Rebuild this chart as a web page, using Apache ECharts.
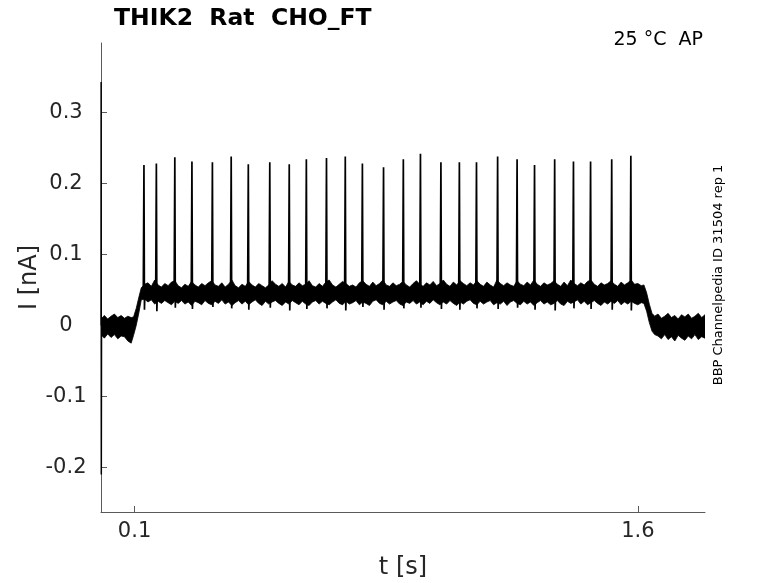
<!DOCTYPE html>
<html>
<head>
<meta charset="utf-8">
<title>THIK2 Rat CHO_FT</title>
<script src="https://cdn.jsdelivr.net/npm/echarts@6/dist/echarts.min.js"></script>
<style>
  html, body { margin: 0; padding: 0; background: #fff; }
  #chart { width: 778px; height: 583px; }
</style>
</head>
<body>
<div id="chart"></div>
<script>
// current trace (t in s, I in nA)

// noisy band: upper / lower envelope, in three pieces
// holding level before the step
const preT  = [0.002, 0.01, 0.02, 0.03, 0.04, 0.05, 0.06, 0.07, 0.08, 0.09, 0.097, 0.105, 0.113, 0.12]
const preHi = [0.010, 0.014, 0.009, 0.013, 0.016, 0.011, 0.014, 0.010, 0.013, 0.011, 0.012, 0.024, 0.040, 0.053]
const preLo = [-0.014, -0.018, -0.012, -0.017, -0.013, -0.019, -0.015, -0.016, -0.022, -0.025, -0.014, 0.000, 0.018, 0.036]

// plateau during the step
const platT = [
  0.13, 0.14, 0.15, 0.16, 0.17, 0.18, 0.19, 0.20, 0.21, 0.22,
  0.23, 0.24, 0.25, 0.26, 0.27, 0.28, 0.29, 0.30, 0.31, 0.32,
  0.33, 0.34, 0.35, 0.36, 0.37, 0.38, 0.39, 0.40, 0.41, 0.42,
  0.43, 0.44, 0.45, 0.46, 0.47, 0.48, 0.49, 0.50, 0.51, 0.52,
  0.53, 0.54, 0.55, 0.56, 0.57, 0.58, 0.59, 0.60, 0.61, 0.62,
  0.63, 0.64, 0.65, 0.66, 0.67, 0.68, 0.69, 0.70, 0.71, 0.72,
  0.73, 0.74, 0.75, 0.76, 0.77, 0.78, 0.79, 0.80, 0.81, 0.82,
  0.83, 0.84, 0.85, 0.86, 0.87, 0.88, 0.89, 0.90, 0.91, 0.92,
  0.93, 0.94, 0.95, 0.96, 0.97, 0.98, 0.99, 1.00, 1.01, 1.02,
  1.03, 1.04, 1.05, 1.06, 1.07, 1.08, 1.09, 1.10, 1.11, 1.12,
  1.13, 1.14, 1.15, 1.16, 1.17, 1.18, 1.19, 1.20, 1.21, 1.22,
  1.23, 1.24, 1.25, 1.26, 1.27, 1.28, 1.29, 1.30, 1.31, 1.32,
  1.33, 1.34, 1.35, 1.36, 1.37, 1.38, 1.39, 1.40, 1.41, 1.42,
  1.43, 1.44, 1.45, 1.46, 1.47, 1.48, 1.49, 1.50, 1.51, 1.52,
  1.53, 1.54, 1.55, 1.56, 1.57, 1.58, 1.59, 1.60, 1.61
]
const platHi = [
  0.058, 0.060, 0.055, 0.064, 0.057, 0.054, 0.059, 0.056, 0.061, 0.063,
  0.056, 0.053, 0.058, 0.055, 0.062, 0.057, 0.054, 0.059, 0.056, 0.060,
  0.063, 0.057, 0.055, 0.060, 0.054, 0.058, 0.064, 0.056, 0.053, 0.058,
  0.055, 0.062, 0.057, 0.054, 0.059, 0.056, 0.053, 0.057, 0.063, 0.058,
  0.055, 0.059, 0.054, 0.062, 0.057, 0.055, 0.060, 0.056, 0.058, 0.063,
  0.056, 0.054, 0.059, 0.055, 0.061, 0.064, 0.057, 0.054, 0.058, 0.062,
  0.059, 0.055, 0.057, 0.054, 0.060, 0.063, 0.058, 0.055, 0.061, 0.056,
  0.059, 0.064, 0.057, 0.055, 0.060, 0.056, 0.058, 0.062, 0.057, 0.054,
  0.059, 0.063, 0.058, 0.055, 0.060, 0.057, 0.062, 0.056, 0.059, 0.064,
  0.058, 0.055, 0.061, 0.057, 0.063, 0.059, 0.056, 0.060, 0.057, 0.063,
  0.058, 0.055, 0.061, 0.057, 0.054, 0.064, 0.059, 0.056, 0.060, 0.057,
  0.055, 0.063, 0.058, 0.056, 0.061, 0.057, 0.064, 0.058, 0.055, 0.060,
  0.057, 0.059, 0.063, 0.058, 0.055, 0.061, 0.056, 0.064, 0.059, 0.056,
  0.060, 0.057, 0.062, 0.064, 0.058, 0.055, 0.060, 0.057, 0.059, 0.063,
  0.058, 0.055, 0.061, 0.057, 0.060, 0.064, 0.058, 0.059, 0.056
]
const platLo = [
  0.037, 0.033, 0.036, 0.030, 0.034, 0.031, 0.035, 0.032, 0.029, 0.034,
  0.031, 0.035, 0.030, 0.033, 0.028, 0.034, 0.032, 0.029, 0.035, 0.031,
  0.029, 0.034, 0.031, 0.036, 0.030, 0.033, 0.028, 0.032, 0.035, 0.030,
  0.034, 0.029, 0.033, 0.036, 0.031, 0.028, 0.034, 0.030, 0.033, 0.035,
  0.031, 0.028, 0.033, 0.030, 0.035, 0.032, 0.029, 0.034, 0.030, 0.028,
  0.033, 0.035, 0.030, 0.034, 0.031, 0.029, 0.033, 0.036, 0.031, 0.029,
  0.034, 0.030, 0.032, 0.035, 0.029, 0.033, 0.031, 0.028, 0.034, 0.036,
  0.031, 0.029, 0.034, 0.030, 0.033, 0.035, 0.030, 0.028, 0.033, 0.031,
  0.035, 0.030, 0.033, 0.029, 0.034, 0.031, 0.036, 0.032, 0.029, 0.033,
  0.030, 0.035, 0.031, 0.028, 0.033, 0.030, 0.034, 0.036, 0.031, 0.029,
  0.034, 0.030, 0.033, 0.035, 0.029, 0.032, 0.030, 0.034, 0.028, 0.033,
  0.035, 0.031, 0.029, 0.034, 0.030, 0.033, 0.028, 0.032, 0.035, 0.030,
  0.033, 0.029, 0.031, 0.035, 0.030, 0.028, 0.034, 0.031, 0.033, 0.036,
  0.030, 0.034, 0.029, 0.032, 0.035, 0.031, 0.028, 0.033, 0.030, 0.034,
  0.031, 0.035, 0.029, 0.033, 0.030, 0.034, 0.031, 0.029, 0.032
]

// decay back to holding level after the step
const postT  = [1.618, 1.626, 1.634, 1.642, 1.65, 1.66, 1.67, 1.68, 1.69, 1.70, 1.71, 1.72, 1.73, 1.74, 1.75, 1.76, 1.77, 1.78, 1.79, 1.80]
const postHi = [0.057, 0.046, 0.030, 0.017, 0.013, 0.016, 0.010, 0.013, 0.017, 0.011, 0.014, 0.009, 0.015, 0.012, 0.016, 0.010, 0.013, 0.017, 0.011, 0.015]
const postLo = [0.031, 0.020, 0.004, -0.008, -0.013, -0.015, -0.019, -0.013, -0.020, -0.016, -0.022, -0.014, -0.018, -0.021, -0.015, -0.019, -0.013, -0.020, -0.016, -0.018]

// action potentials riding on the plateau
const plateauLevel = 0.047
const spikeT = [
  0.128, 0.165, 0.220, 0.271, 0.332, 0.388, 0.439, 0.503, 0.561,
  0.612, 0.672, 0.728, 0.779, 0.842, 0.901, 0.952, 1.013, 1.068,
  1.119, 1.182, 1.240, 1.292, 1.352, 1.408, 1.459, 1.522, 1.579
]
const spikePeak = [
  0.226, 0.228, 0.237, 0.231, 0.230, 0.238, 0.227, 0.230, 0.227,
  0.234, 0.236, 0.238, 0.228, 0.223, 0.234, 0.242, 0.230, 0.230,
  0.230, 0.238, 0.234, 0.226, 0.234, 0.231, 0.231, 0.234, 0.239
]
const spikeDip = [
  0.022, 0.020, 0.025, 0.023, 0.026, 0.024, 0.022, 0.025, 0.021,
  0.023, 0.024, 0.021, 0.026, 0.022, 0.024, 0.025, 0.023, 0.022,
  0.024, 0.023, 0.025, 0.022, 0.021, 0.024, 0.023, 0.022, 0.021
]

// capacitive transient at t = 0
const transT = [0, 0.0004, 0.0009, 0.0016]
const transI = [0, 0.343, -0.21, 0]

const xTicks = [0.1, 1.6]
const yTicks = [-0.2, -0.1, 0, 0.1, 0.2, 0.3]

const envT = preT.concat(platT, postT)
const envHi = preHi.concat(platHi, postHi)
const envLo = preLo.concat(platLo, postLo)

const FONT = 'DejaVu Sans'
const chart = echarts.init(document.getElementById('chart'))

const option = {
  animation: false,
  backgroundColor: '#fff',
  title: {
    text: 'THIK2  Rat  CHO_FT',
    left: 114,
    top: 7,
    padding: 0,
    textStyle: { fontFamily: FONT, fontWeight: 'bold', fontSize: 23.5, color: '#000' }
  },
  // fixed plot box, no auto-shrinking to fit the axis names
  grid: { left: 101, right: 73, top: 43, bottom: 71, outerBoundsMode: 'none' },
  xAxis: {
    type: 'value',
    min: 0,
    max: 1.8,
    name: 't [s]',
    nameLocation: 'middle',
    nameGap: 44,
    nameMoveOverlap: false,
    nameTextStyle: { fontFamily: FONT, fontSize: 24, color: '#262626' },
    axisLine: { onZero: false, lineStyle: { color: '#5a5a5a', width: 1 } },
    axisTick: { inside: true, length: 6, customValues: xTicks, lineStyle: { color: '#5a5a5a' } },
    axisLabel: {
      customValues: xTicks,
      margin: 9,
      fontFamily: FONT,
      fontSize: 21,
      color: '#262626',
      formatter: v => String(v)
    },
    splitLine: { show: false }
  },
  yAxis: {
    type: 'value',
    min: -0.263,
    max: 0.398,
    name: 'I [nA]',
    nameLocation: 'middle',
    nameGap: 59,
    nameMoveOverlap: false,
    nameTextStyle: { fontFamily: FONT, fontSize: 24, color: '#262626' },
    axisLine: { lineStyle: { color: '#5a5a5a', width: 1 } },
    axisTick: { inside: true, length: 6, customValues: yTicks, lineStyle: { color: '#5a5a5a' } },
    axisLabel: {
      customValues: yTicks,
      margin: 35,
      align: 'center',
      fontFamily: FONT,
      fontSize: 21,
      color: '#262626',
      formatter: v => String(v)
    },
    splitLine: { show: false }
  },
  graphic: [
    {
      type: 'text',
      right: 75,
      top: 31,
      style: { text: '25 °C  AP', font: '19px "DejaVu Sans"', fill: '#000' }
    },
    {
      type: 'text',
      x: 718.5,
      y: 275,
      rotation: Math.PI / 2,
      style: {
        text: 'BBP Channelpedia ID 31504 rep 1',
        font: '13px "DejaVu Sans"',
        fill: '#000',
        align: 'center',
        verticalAlign: 'middle'
      }
    }
  ],
  series: [
    {
      // noise band as a closed polygon: upper edge forward, lower edge back
      type: 'custom',
      data: [[0, 0]],
      clip: true,
      renderItem: (params, api) => {
        const pts = []
        envT.forEach((t, i) => pts.push(api.coord([t, envHi[i]])))
        for (let i = envT.length - 1; i >= 0; i--) pts.push(api.coord([envT[i], envLo[i]]))
        return {
          type: 'polygon',
          shape: { points: pts },
          style: { fill: '#000', stroke: '#000', lineWidth: 0.8 }
        }
      },
      z: 2
    },
    {
      type: 'custom',
      data: spikeT.map((t, i) => [t, spikePeak[i], spikeDip[i]]),
      clip: true,
      renderItem: (params, api) => {
        const t = api.value(0)
        const pts = [
          api.coord([t - 0.002, plateauLevel]),
          api.coord([t, api.value(1)]),
          api.coord([t + 0.0015, api.value(2)]),
          api.coord([t + 0.003, plateauLevel])
        ]
        return {
          type: 'polyline',
          shape: { points: pts },
          style: { stroke: '#000', lineWidth: 1.7, fill: null }
        }
      },
      z: 3
    },
    {
      type: 'line',
      data: transT.map((t, i) => [t, transI[i]]),
      symbol: 'none',
      lineStyle: { color: '#000', width: 1.5 },
      z: 3
    }
  ]
}

chart.setOption(option)
</script>
</body>
</html>
